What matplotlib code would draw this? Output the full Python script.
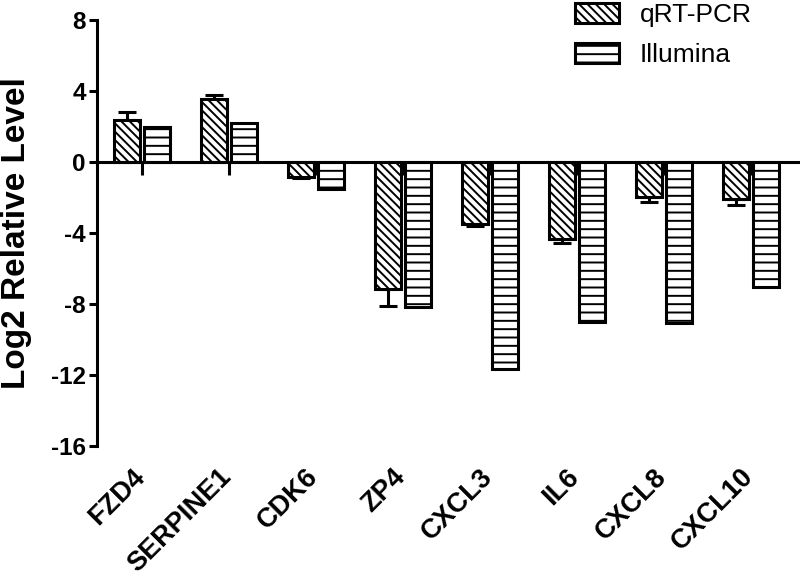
import numpy as np
import matplotlib
matplotlib.use('Agg')
import matplotlib.pyplot as plt

plt.rcParams['font.family'] = ['Liberation Sans', 'DejaVu Sans']
plt.rcParams['hatch.linewidth'] = 1.4

# data
genes = ['FZD4', 'SERPINE1', 'CDK6', 'ZP4', 'CXCL3', 'IL6', 'CXCL8', 'CXCL10']
qrt_pcr = [2.37, 3.53, -0.83, -7.14, -3.49, -4.36, -1.95, -2.10]
qrt_err = [0.45, 0.25, 0.09, 1.00, 0.10, 0.22, 0.29, 0.32]
illumina = [1.99, 2.18, -1.50, -8.20, -11.66, -9.03, -9.10, -7.05]
yticks = [8, 4, 0, -4, -8, -12, -16]

x = np.arange(len(genes))
w = 0.30
off = 0.172
lw = 2.2

fig = plt.figure(figsize=(8, 5.83), dpi=100)
ax = fig.add_axes([0.121, 0.235, 0.876, 0.731])

q = np.array(qrt_pcr)
e = np.array(qrt_err)
lower = np.where(q < 0, e, 0)
upper = np.where(q >= 0, e, 0)

ax.errorbar(x - off, q, yerr=[lower, upper], fmt='none', ecolor='black',
            elinewidth=2.2, capsize=6.5, capthick=2.2, zorder=1)
ax.bar(x - off, qrt_pcr, width=w, color='white', edgecolor='black',
       linewidth=lw, hatch='\\' * 4, label='qRT-PCR', zorder=2)
ax.bar(x + off, illumina, width=w, color='white', edgecolor='black',
       linewidth=lw, hatch='--', label='Illumina', zorder=2)

ax.set_xlim(-0.52, 7.54)
ax.set_ylim(-16, 8)
ax.set_yticks(yticks)
ax.set_yticklabels([str(t) for t in yticks], fontsize=17.5, fontweight='bold')

ax.spines['top'].set_visible(False)
ax.spines['right'].set_visible(False)
ax.spines['left'].set_linewidth(lw)
ax.spines['bottom'].set_linewidth(lw)
ax.spines['bottom'].set_position(('data', 0))
ax.spines['bottom'].set_zorder(3)

ax.tick_params(axis='y', direction='out', length=6, width=lw, pad=2)
ax.set_xticks(x)
ax.set_xticklabels([])
ax.tick_params(axis='x', direction='out', length=9, width=lw)

for i, g in enumerate(genes):
    ax.text(i + 0.09, -17.0, g, rotation=45, ha='right', va='top',
            fontsize=19.5, fontweight='bold', clip_on=False)

ax.set_ylabel('Log2 Relative Level', fontsize=24, fontweight='bold')
ax.yaxis.set_label_coords(-0.093, 0.5)

fs = 19
leg = ax.legend(loc='upper left', bbox_to_anchor=(564 / 800, 1 + 8 / 583),
                bbox_transform=fig.transFigure, borderaxespad=0, frameon=False,
                fontsize=fs, handlelength=1.7, handleheight=0.8,
                handletextpad=0.76, labelspacing=0.62)
for p in leg.get_patches():
    p.set_linewidth(2.2)

fig.savefig('out.png', dpi=100)
